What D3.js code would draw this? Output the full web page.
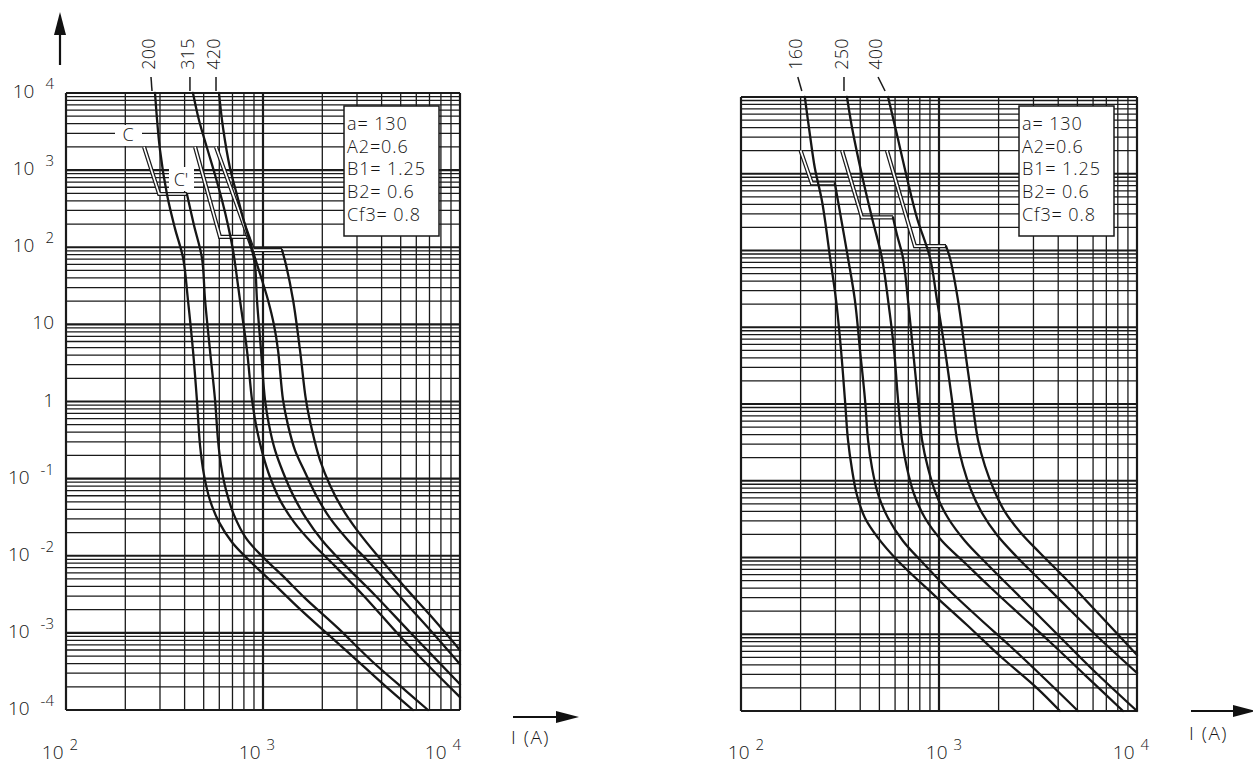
<!DOCTYPE html>
<html><head><meta charset="utf-8">
<script src="https://cdn.jsdelivr.net/npm/d3@7"></script>
<style>
body{margin:0;background:#fff}
svg{display:block}
text{font-family:'Open Sans','Liberation Sans',Arial,sans-serif;fill:#151515;font-weight:300}
</style>
</head><body>
<svg id="c" width="1253" height="765"></svg>
<script>
// ---------- data (current I in A, time t in s) ----------
const xTickValues = [100, 1000, 10000];
const xTickLabels = [["10","2"],["10","3"],["10","4"]];
const yTickValues = [1e4, 1e3, 1e2, 10, 1, 0.1, 0.01, 0.001, 0.0001];
const yTickLabels = [["10","4"],["10","3"],["10","2"],["10",""],["1",""],["10","-1"],["10","-2"],["10","-3"],["10","-4"]];
const legendLines = ["a= 130","A2=0.6","B1= 1.25","B2= 0.6","Cf3= 0.8"];
const leftRatings = ["200","315","420"];
const rightRatings = ["160","250","400"];

// left panel curves
const L200minI = [283,300,326,357,393,416,441,462,479,502,538,598,696,859,1111,1541,2188,3108,4413,5772];
const L200minT = [10000,1823,475,177,72.4,20.7,4.64,1.04,0.272,0.111,0.0526,0.0273,0.015,0.00851,0.00455,0.00203,0.000906,0.000406,0.000181,0.0001];
const L200maxI = [411,446,490,508,538,571,591,612,649,713,820,988,1249,1634,2403,3576,5258,6880];
const L200maxT = [490,194,72.4,20.7,4.64,1.04,0.316,0.1497,0.0709,0.0336,0.0169,0.00988,0.0056,0.00282,0.00115,0.000429,0.000181,0.0001];
const L315minI = [441,473,520,571,619,664,704,729,764,829,880,932,1000,1085,1220,1437,1773,2321,3295,4960,7043,10000];
const L315minT = [10000,4465,1935,864,409,194,92.0,50.6,20.7,4.64,1.04,0.426,0.202,0.105,0.0526,0.0273,0.0146,0.00733,0.0029,0.000906,0.000359,0.000147];
const L315maxI = [849,880,911,932,977,1024,1073,1151,1264,1421,1653,1993,2607,3703,5575,10000];
const L315maxT = [136,92.0,58.8,20.7,4.64,1.04,0.494,0.234,0.121,0.0611,0.0307,0.0159,0.00755,0.00308,0.00102,0.000216];
const L420minI = [598,627,680,738,810,911,988,1060,1137,1192,1264,1339,1453,1634,1858,2188,2701,3576,5258,7294,10000];
const L420minT = [10000,3516,1065,475,194,72.4,37.6,20.7,9.79,4.64,1.04,0.494,0.234,0.121,0.0611,0.0307,0.0159,0.00755,0.0025,0.00099,0.000393];
const L420maxI = [1249,1309,1421,1541,1653,1773,1947,2188,2518,3000,3790,5137,7043,10000];
const L420maxT = [92.0,58.8,20.7,4.64,1.04,0.426,0.174,0.0823,0.0414,0.0215,0.0102,0.00416,0.0017,0.000597];
// left panel tolerance bands (double thin lines)
const LB200I = [249,297,411], LB200T = [2000,490,490];
const LB315I = [452,605,849], LB315T = [2000,136,136];
const LB420I = [577,890,1249], LB420T = [2000,92,92];

// right panel curves
const R160minI = [210,223,236,257,282,302,320,335,347,364,385,423,492,614,933,1385,2033,3126,4084];
const R160minT = [10000,3198,1188,428,79.9,22.6,5.05,1.13,0.34,0.138,0.0652,0.0327,0.018,0.00928,0.00334,0.00132,0.000521,0.000199,0.0001];
const R160maxI = [298,316,347,376,399,423,438,459,492,553,658,830,1136,1611,2284,3431,5035];
const R160maxT = [750,317,79.9,22.6,5.05,1.13,0.34,0.1466,0.0672,0.0327,0.0164,0.00848,0.00366,0.00158,0.000703,0.000261,0.0001];
const R250minI = [343,364,408,459,515,553,593,621,650,689,748,850,1036,1353,1809,2477,3637,5463,8500];
const R250minT = [10000,3946,963,265,79.9,22.6,5.05,1.13,0.34,0.1466,0.0672,0.0327,0.0164,0.00848,0.00413,0.00195,0.000792,0.000294,0.0001];
const R250maxI = [586,614,658,697,739,783,821,880,966,1111,1353,1768,2566,3854,5925,10000];
const R250maxT = [270,159,79.9,22.6,5.05,1.13,0.34,0.1466,0.0672,0.0327,0.0164,0.00799,0.00306,0.00107,0.000353,0.0001];
const R400minI = [553,614,689,774,901,977,1072,1163,1233,1322,1451,1649,1963,2448,3237,4482,6504,10000];
const R400minT = [10000,3198,880,265,79.9,22.6,5.05,1.13,0.34,0.1557,0.0758,0.038,0.01965,0.01046,0.00509,0.0022,0.000867,0.000313];
const R400maxI = [1085,1136,1247,1353,1468,1574,1707,1896,2154,2566,3237,4328,6138,10000];
const R400maxT = [114,79.9,22.6,5.05,1.13,0.34,0.1557,0.0758,0.0392,0.0215,0.01144,0.0054,0.00207,0.000537];
const RB160I = [200,228,298], RB160T = [2000,750,750];
const RB250I = [324,408,586], RB250T = [2000,270,270];
const RB400I = [546,756,1085], RB400T = [2000,114,114];

// ---------- drawing ----------
const zip = (I, T) => I.map((v, i) => [v, T[i]]);
const svg = d3.select("#c");

const panels = [
  {
    x: d3.scaleLog().domain([100, 10000]).range([66, 460]),
    y: d3.scaleLog().domain([1e-4, 1e4]).range([710, 93]),
    curves: [zip(L200minI,L200minT), zip(L200maxI,L200maxT), zip(L315minI,L315minT),
             zip(L315maxI,L315maxT), zip(L420minI,L420minT), zip(L420maxI,L420maxT)],
    bands: [zip(LB200I,LB200T), zip(LB315I,LB315T), zip(LB420I,LB420T)],
    ratings: leftRatings, ratingTop: [L200minI[0], L315minI[0], L420minI[0]], slant: [1,0,0],
    xlabShift: -6, yLabels: true,
    arrow: {x1: 513, x2: 579, y: 717, tx: 511, ty: 744}
  },
  {
    x: d3.scaleLog().domain([100, 10000]).range([741, 1137]),
    y: d3.scaleLog().domain([1e-4, 1e4]).range([711, 97]),
    curves: [zip(R160minI,R160minT), zip(R160maxI,R160maxT), zip(R250minI,R250minT),
             zip(R250maxI,R250maxT), zip(R400minI,R400minT), zip(R400maxI,R400maxT)],
    bands: [zip(RB160I,RB160T), zip(RB250I,RB250T), zip(RB400I,RB400T)],
    ratings: rightRatings, ratingTop: [R160minI[0], R250minI[0], R400minI[0]], slant: [4,0,7],
    xlabShift: 5, yLabels: false,
    arrow: {x1: 1191, x2: 1256, y: 711, tx: 1189, ty: 740}
  }
];

const isDecade = v => Math.abs(Math.log10(v) - Math.round(Math.log10(v))) < 1e-9;

panels.forEach((p, pi) => {
  const g = svg.append("g");
  const [x0, x1] = p.x.range();
  const [yb, yt] = p.y.range();

  // grid
  g.selectAll(".vg").data(p.x.ticks()).join("line")
    .attr("x1", d => p.x(d)).attr("x2", d => p.x(d))
    .attr("y1", yt).attr("y2", yb)
    .attr("stroke", "#1a1a1a").attr("stroke-width", d => isDecade(d) ? 2.2 : 1.3);
  g.selectAll(".hg").data(p.y.ticks()).join("line")
    .attr("x1", x0).attr("x2", x1)
    .attr("y1", d => p.y(d)).attr("y2", d => p.y(d))
    .attr("stroke", "#1a1a1a").attr("stroke-width", d => isDecade(d) ? 2.2 : 1.3);

  // legend box
  const lx = x0 + 278, ly = 106;
  g.append("rect").attr("x", lx).attr("y", ly).attr("width", 95).attr("height", 130)
    .attr("fill", "#fff").attr("stroke", "#1a1a1a").attr("stroke-width", 1.5);
  legendLines.forEach((s, i) => {
    g.append("text").attr("x", lx + 3).attr("y", ly + 24 + i * 22.7)
      .style("font-size", "18px").style("letter-spacing", "0.9px").text(s);
  });

  // C / C' markers (left panel only)
  if (pi === 0) {
    g.append("rect").attr("x", 115).attr("y", 125).attr("width", 27).attr("height", 21).attr("fill", "#fff");
    g.append("text").attr("x", 128).attr("y", 141).attr("text-anchor", "middle").style("font-size", "18px").text("C");
    g.append("rect").attr("x", 169).attr("y", 167).attr("width", 25).attr("height", 24).attr("fill", "#fff");
    g.append("text").attr("x", 181).attr("y", 186).attr("text-anchor", "middle").style("font-size", "18px").text("C'");
  }

  const line = d3.line().x(d => p.x(d[0])).y(d => p.y(d[1]));
  // bands: double thin lines
  p.bands.forEach(b => {
    g.append("path").attr("d", line(b)).attr("fill", "none").attr("stroke", "#1a1a1a").attr("stroke-width", 4.2).attr("stroke-linejoin", "miter");
    g.append("path").attr("d", line(b)).attr("fill", "none").attr("stroke", "#fff").attr("stroke-width", 1.7).attr("stroke-linejoin", "miter");
  });

  // curves
  const cl = d3.line().x(d => p.x(d[0])).y(d => p.y(d[1])).curve(d3.curveCatmullRom.alpha(0.5));
  p.curves.forEach(c => {
    g.append("path").attr("d", cl(c)).attr("fill", "none").attr("stroke", "#161616")
      .attr("stroke-width", 2.3).attr("stroke-linecap", "round");
  });

  // rating labels + ticks
  p.ratings.forEach((r, i) => {
    const xb = p.x(p.ratingTop[i]) - 3;
    const xt = xb - p.slant[i];
    g.append("line").attr("x1", xt).attr("y1", 77).attr("x2", xb).attr("y2", 91)
      .attr("stroke", "#1a1a1a").attr("stroke-width", 1.5);
    g.append("text").attr("transform", `translate(${xt + 4},54) rotate(-90)`)
      .attr("text-anchor", "middle").style("font-size", "18px").style("letter-spacing", "0.3px").text(r);
  });

  // x tick labels
  xTickValues.forEach((v, i) => {
    const extra = i === xTickValues.length - 1 ? -11 : 0;
    const t = g.append("text").attr("x", p.x(v) + p.xlabShift + extra).attr("y", 759)
      .attr("text-anchor", "middle").style("font-size", "19px");
    t.append("tspan").text(xTickLabels[i][0]);
    t.append("tspan").attr("dx", 6).attr("dy", -9).style("font-size", "15px").text(xTickLabels[i][1]);
  });

  // y tick labels
  if (p.yLabels) {
    yTickValues.forEach((v, i) => {
      const t = g.append("text").attr("x", 54).attr("y", p.y(v) + 5)
        .attr("text-anchor", "end").style("font-size", "19px");
      t.append("tspan").text(yTickLabels[i][0]);
      if (yTickLabels[i][1]) t.append("tspan").attr("dx", 11).attr("dy", -9).style("font-size", "15px").text(yTickLabels[i][1]);
    });
    // vertical arrow
    g.append("line").attr("x1", 60).attr("x2", 60).attr("y1", 65).attr("y2", 30).attr("stroke", "#111").attr("stroke-width", 2.2);
    g.append("path").attr("d", "M60,12 L54,35 L66,35 Z").attr("fill", "#111");
  }

  // horizontal arrow + I (A)
  const a = p.arrow;
  g.append("line").attr("x1", a.x1).attr("x2", a.x2 - 18).attr("y1", a.y).attr("y2", a.y).attr("stroke", "#111").attr("stroke-width", 2.2);
  g.append("path").attr("d", `M${a.x2},${a.y} L${a.x2 - 23},${a.y - 6} L${a.x2 - 23},${a.y + 6} Z`).attr("fill", "#111");
  g.append("text").attr("x", a.tx).attr("y", a.ty).style("font-size", "19px").style("letter-spacing", "1.5px").text("I (A)");
});
</script>
</body></html>
